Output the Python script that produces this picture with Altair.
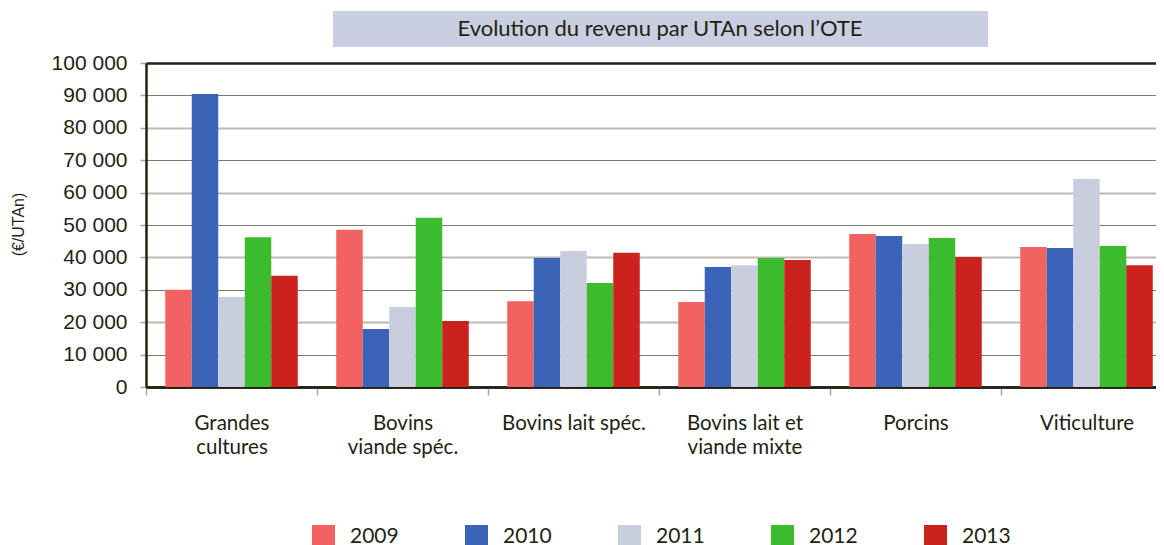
import altair as alt
import pandas as pd

title_text = "Evolution du revenu par UTAn selon l\u2019OTE"
categories = ["Grandes\ncultures", "Bovins\nviande spéc.", "Bovins lait spéc.",
              "Bovins lait et\nviande mixte", "Porcins", "Viticulture"]
years = ["2009", "2010", "2011", "2012", "2013"]
v2009 = [30000, 48500, 26500, 26200, 47200, 43200]
v2010 = [90400, 17900, 39800, 37000, 46600, 42900]
v2011 = [27800, 24700, 42000, 37600, 44100, 64200]
v2012 = [46200, 52200, 32100, 39800, 46000, 43500]
v2013 = [34300, 20400, 41400, 39200, 40100, 37600]
colors = ["#f26260", "#3b64b9", "#c9cede", "#3dbb2e", "#cb221d"]
y_ticks = list(range(0, 100001, 10000))

series = {"2009": v2009, "2010": v2010, "2011": v2011, "2012": v2012, "2013": v2013}
rows = []
for yr in years:
    for c, v in zip(categories, series[yr]):
        rows.append({"category": c, "year": yr, "value": v})
df = pd.DataFrame(rows)

DARK = "#231f14"

bars = alt.Chart(df).mark_bar().encode(
    x=alt.X("category:N", sort=categories,
            scale=alt.Scale(range=[0, 1026], paddingInner=0, paddingOuter=0),
            axis=alt.Axis(title=None, domainColor=DARK, domainWidth=2.5,
                          tickBand="extent", tickColor="#a8a5a0", tickSize=8, tickWidth=1.5,
                          labelFont="Lato", labelFontSize=20.5, labelColor=DARK, labelAngle=0,
                          labelExpr="split(datum.label, '\\n')", labelLineHeight=24,
                          labelPadding=18, labelBaseline="top", grid=False)),
    xOffset=alt.XOffset("year:N", sort=years,
                        scale=alt.Scale(paddingOuter=0.726, paddingInner=0)),
    y=alt.Y("value:Q", scale=alt.Scale(domain=[0, 100000]),
            axis=alt.Axis(values=y_ticks,
                          labelExpr="replace(format(datum.value, ','), ',', ' ')",
                          domainColor=DARK, domainWidth=2.5,
                          tickColor="#a8a5a0", tickSize=6, tickWidth=1.5,
                          labelFont="Liberation Sans", labelFontSize=21, labelColor=DARK,
                          labelPadding=13,
                          grid=True,
                          gridColor={"condition": [
                              {"test": "datum.value == 100000 || datum.value == 0", "value": DARK},
                              {"test": "datum.value % 20000 == 0", "value": "#bdbab5"}],
                              "value": "#7d7971"},
                          gridWidth={"condition": [
                              {"test": "datum.value == 100000 || datum.value == 0", "value": 2.5},
                              {"test": "datum.value % 20000 == 0", "value": 2}],
                              "value": 1.2},
                          title="(€/UTAn)", titleFont="Liberation Sans", titleFontSize=16,
                          titleFontWeight="normal", titleColor=DARK, titleAngle=270,
                          titleX=-128, titleY=161, titleAlign="center", titleBaseline="middle")),
    color=alt.Color("year:N", scale=alt.Scale(domain=years, range=colors),
                    legend=alt.Legend(title=None, orient="none", legendX=166, legendY=462,
                                      direction="horizontal", columns=5, symbolType="square",
                                      symbolSize=529, symbolStrokeWidth=0,
                                      labelFont="Lato", labelFontSize=21, labelColor=DARK,
                                      labelOffset=15, columnPadding=66, gridAlign="all",
                                      padding=0)),
)

tdf = pd.DataFrame({"t": [title_text]})
title_box = alt.Chart(tdf).mark_rect(color="#c9cee0").encode(
    x=alt.value(187), x2=alt.value(842), y=alt.value(-52), y2=alt.value(-16))
title_txt = alt.Chart(tdf).mark_text(font="Lato", fontSize=22, color=DARK,
                                     align="center", baseline="middle").encode(
    x=alt.value(514), y=alt.value(-34), text="t:N")

chart = alt.layer(title_box, title_txt, bars).properties(
    width=1010, height=324,
    padding={"left": 138, "top": 55, "right": 0, "bottom": 158},
    autosize=alt.AutoSizeParams(type="none"),
).configure_view(stroke=None)

chart.save("out.html", embed_options={"renderer": "svg", "actions": False})
